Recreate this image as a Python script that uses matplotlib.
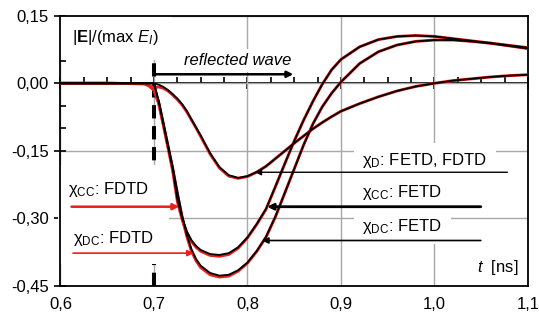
import numpy as np
import matplotlib
matplotlib.use('Agg')
import matplotlib.pyplot as plt
from matplotlib import font_manager
from matplotlib.ticker import MultipleLocator, FuncFormatter

# time axis [ns]
t = [0.60, 0.65, 0.69, 0.695, 0.70, 0.705, 0.71, 0.715, 0.72, 0.725, 0.73, 0.735,
     0.74, 0.745, 0.75, 0.76, 0.77, 0.78, 0.79, 0.80, 0.81, 0.82, 0.83, 0.84,
     0.85, 0.86, 0.87, 0.88, 0.89, 0.90, 0.92, 0.94, 0.96, 0.98, 1.00, 1.02,
     1.04, 1.06, 1.08, 1.10]

# FETD (black)
d_fetd = [0, 0, 0, 0, 0, -0.003, -0.008, -0.015, -0.024, -0.034, -0.046, -0.061,
          -0.080, -0.098, -0.116, -0.155, -0.186, -0.204, -0.210, -0.206, -0.197, -0.184, -0.167, -0.150,
          -0.133, -0.117, -0.101, -0.087, -0.074, -0.062, -0.045, -0.030, -0.017, -0.007, 0.000, 0.006,
          0.010, 0.014, 0.017, 0.019]
cc_fetd = [0, 0, 0, 0, 0, -0.040, -0.090, -0.140, -0.190, -0.258, -0.298, -0.328,
           -0.348, -0.361, -0.370, -0.379, -0.381, -0.377, -0.364, -0.342, -0.312, -0.278, -0.228, -0.178,
           -0.128, -0.082, -0.040, -0.002, 0.030, 0.053, 0.081, 0.097, 0.104, 0.106, 0.104, 0.099,
           0.094, 0.089, 0.084, 0.079]
dc_fetd = [0, 0, 0, 0, 0, -0.038, -0.087, -0.136, -0.185, -0.240, -0.292, -0.335,
           -0.368, -0.390, -0.405, -0.421, -0.427, -0.425, -0.415, -0.398, -0.372, -0.340, -0.295, -0.243,
           -0.190, -0.137, -0.090, -0.052, -0.022, 0.003, 0.044, 0.070, 0.085, 0.093, 0.096, 0.096,
           0.093, 0.089, 0.083, 0.077]

# FDTD (red)
d_fdtd = [0, 0, -0.001, -0.005, -0.010, -0.008, -0.011, -0.017, -0.026, -0.036, -0.048, -0.063,
          -0.081, -0.099, -0.118, -0.157, -0.188, -0.206, -0.211, -0.207, -0.197, -0.184, -0.167, -0.150,
          -0.133, -0.117, -0.101, -0.087, -0.074, -0.062, -0.045, -0.030, -0.017, -0.007, 0.000, 0.006,
          0.010, 0.014, 0.017, 0.019]
cc_fdtd = [0, 0, -0.001, -0.006, -0.015, -0.045, -0.093, -0.143, -0.194, -0.262, -0.302, -0.331,
           -0.351, -0.364, -0.373, -0.382, -0.384, -0.380, -0.366, -0.343, -0.313, -0.279, -0.229, -0.178,
           -0.128, -0.082, -0.040, -0.002, 0.030, 0.053, 0.081, 0.097, 0.104, 0.106, 0.104, 0.099,
           0.094, 0.089, 0.084, 0.079]
dc_fdtd = [0, 0, -0.001, -0.006, -0.015, -0.042, -0.090, -0.139, -0.189, -0.245, -0.297, -0.339,
           -0.372, -0.394, -0.409, -0.425, -0.430, -0.428, -0.417, -0.399, -0.373, -0.341, -0.296, -0.243,
           -0.190, -0.137, -0.090, -0.052, -0.022, 0.003, 0.044, 0.070, 0.085, 0.093, 0.096, 0.096,
           0.093, 0.089, 0.083, 0.077]

xticks = [0.6, 0.7, 0.8, 0.9, 1.0, 1.1]
yticks = [0.15, 0.0, -0.15, -0.30, -0.45]

names = {f.name for f in font_manager.fontManager.ttflist}
FONT = 'Liberation Sans Narrow' if 'Liberation Sans Narrow' in names else 'Liberation Sans'
plt.rcParams['font.family'] = [FONT, 'DejaVu Sans']
plt.rcParams['mathtext.fontset'] = 'custom'
plt.rcParams['mathtext.rm'] = FONT
plt.rcParams['mathtext.it'] = FONT + ':italic'
plt.rcParams['mathtext.bf'] = FONT + ':bold'
FS = 13 if FONT.endswith('Narrow') else 12
RED = '#e8201c'

fig = plt.figure(figsize=(5.39, 3.24), dpi=100)
ax = fig.add_axes([0.1122, 0.1173, 0.9796 - 0.1122, 0.9515 - 0.1173])

ax.set_xlim(0.6, 1.1)
ax.set_ylim(-0.45, 0.15)
ax.set_xticks(xticks)
ax.set_yticks(yticks)
ax.yaxis.set_minor_locator(MultipleLocator(0.05))
ax.xaxis.set_major_formatter(FuncFormatter(lambda v, p: f'{v:.1f}'.replace('.', ',')))
ax.yaxis.set_major_formatter(FuncFormatter(lambda v, p: f'{v:.2f}'.replace('.', ',')))
ax.tick_params(axis='x', length=0, pad=8, labelsize=FS)
ax.tick_params(axis='y', which='major', direction='inout', length=9, width=1.2, pad=4, labelsize=FS)
ax.tick_params(axis='y', which='minor', direction='in', length=4, width=1.2)
ax.grid(which='major', color='#a8a8a8', lw=1.0, zorder=0)
ax.set_axisbelow(True)
for s in ax.spines.values():
    s.set_linewidth(1.3)

# zero line acting as the time axis
sec = ax.secondary_xaxis(0.75)
sec.set_xticks(xticks)
sec.xaxis.set_minor_locator(MultipleLocator(0.025))
sec.tick_params(which='major', direction='inout', length=9, width=1.2, labeltop=False, labelbottom=False)
sec.tick_params(which='minor', direction='out', length=4, width=1.2)
sec.spines['top'].set_linewidth(1.3)
sec.spines['bottom'].set_linewidth(1.3)

ax.axvline(0.7, color='black', lw=2.9, linestyle=(0, (3.3, 1.9)), zorder=1)

box = dict(fc='white', ec='none', pad=6)
ax.text(0.6123, 0.091, r'$|\mathbf{E}|/(\mathrm{max}\ \mathit{E}_{\mathit{I}})$', fontsize=FS,
        va='baseline', zorder=2, bbox=dict(fc='white', ec='none', pad=9))
ax.text(0.790, 0.0406, 'reflected wave', fontsize=FS, style='italic', ha='center',
        va='baseline', zorder=2, bbox=dict(fc='white', ec='none', pad=3))
ax.text(0.923, -0.1817, r'$\mathrm{\chi}_{\mathrm{D}}$: FETD, FDTD', fontsize=FS, va='baseline', zorder=2, bbox=box)
ax.text(0.923, -0.2516, r'$\mathrm{\chi}_{\mathrm{CC}}$: FETD', fontsize=FS, va='baseline', zorder=2, bbox=box)
ax.text(0.923, -0.327, r'$\mathrm{\chi}_{\mathrm{DC}}$: FETD', fontsize=FS, va='baseline', zorder=2, bbox=box)
ax.text(0.608, -0.2456, r'$\mathrm{\chi}_{\mathrm{CC}}$: FDTD', fontsize=FS, va='baseline', zorder=2,
        bbox=dict(fc='white', ec='none', pad=11))
ax.text(0.6134, -0.355, r'$\mathrm{\chi}_{\mathrm{DC}}$: FDTD', fontsize=FS, va='baseline', zorder=2,
        bbox=dict(fc='white', ec='none', pad=11))
ax.text(1.090, -0.418, r'$\mathit{t}$  [ns]', fontsize=FS, ha='right', va='baseline', zorder=2)

for y in (d_fdtd, cc_fdtd, dc_fdtd):
    ax.plot(t, y, color=RED, lw=2.1, zorder=3, solid_joinstyle='round')
for y in (d_fetd, cc_fetd, dc_fetd):
    ax.plot(t, y, color='black', lw=1.3, zorder=4, solid_joinstyle='round')

def arrow(x0, x1, y, color, lw):
    ax.annotate('', xy=(x1, y), xytext=(x0, y), zorder=5,
                arrowprops=dict(arrowstyle='-|>', color=color, lw=lw, mutation_scale=9,
                                shrinkA=0, shrinkB=0))

arrow(0.7, 0.849, 0.02, 'black', 1.8)
arrow(1.078, 0.808, -0.1975, 'black', 1.0)
arrow(1.0495, 0.821, -0.274, 'black', 2.0)
arrow(1.0495, 0.8156, -0.349, 'black', 1.2)
arrow(0.6118, 0.727, -0.274, RED, 1.8)
arrow(0.6134, 0.7425, -0.377, RED, 1.2)

fig.savefig('out.png', dpi=100)
